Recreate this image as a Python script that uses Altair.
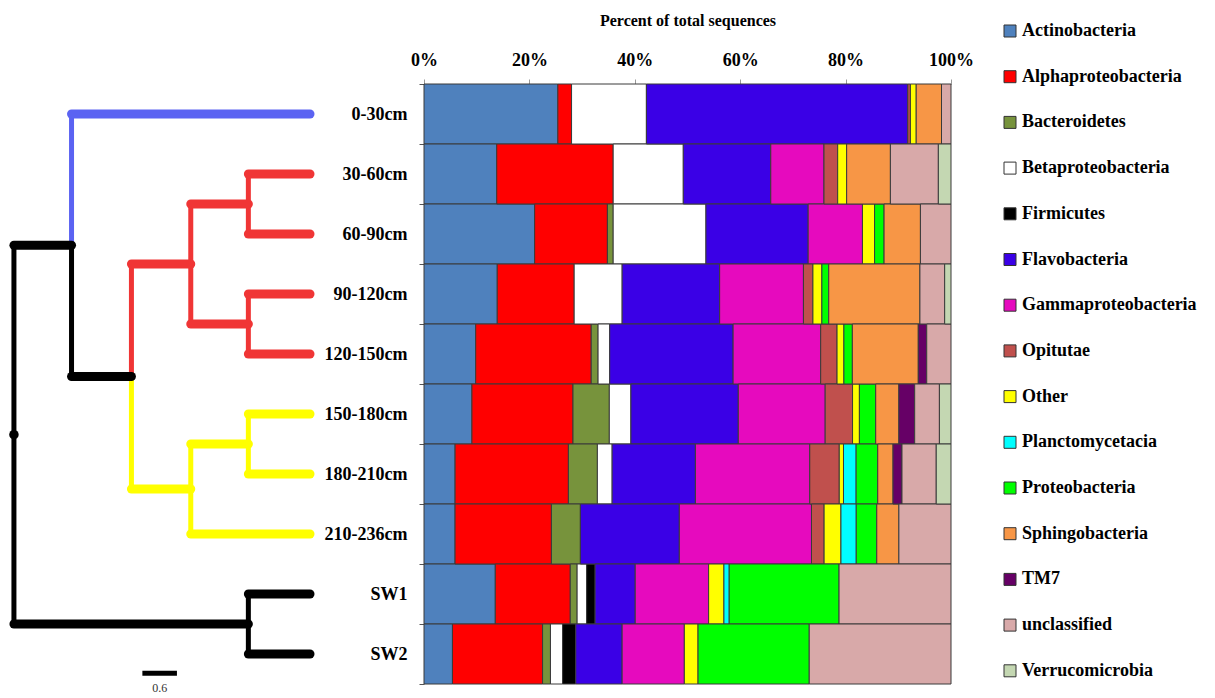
import altair as alt
import pandas as pd

# ---------------- data ----------------
samples = ["0-30cm", "30-60cm", "60-90cm", "90-120cm", "120-150cm",
           "150-180cm", "180-210cm", "210-236cm", "SW1", "SW2"]

taxa = ["Actinobacteria", "Alphaproteobacteria", "Bacteroidetes", "Betaproteobacteria",
        "Firmicutes", "Flavobacteria", "Gammaproteobacteria", "Opitutae", "Other",
        "Planctomycetacia", "Proteobacteria", "Sphingobacteria", "TM7", "unclassified",
        "Verrucomicrobia"]

taxon_colors = ["#4F81BD", "#FF0000", "#77933C", "#FFFFFF", "#000000", "#3A00E6",
                "#E60ABE", "#C0504D", "#FFFF00", "#00FFFF", "#00FF00", "#F79646",
                "#660066", "#D8A9A9", "#C4D7B2"]

# percent of total sequences, one value per sample (order of `samples`)
actinobacteria      = [25.4, 13.8, 21.0, 13.9,  9.8,  9.1,  5.9,  5.9, 13.5,  5.4]
alphaproteobacteria = [ 2.6, 22.1, 13.8, 14.6, 21.9, 19.2, 21.5, 18.3, 14.2, 17.1]
bacteroidetes       = [ 0.0,  0.0,  1.1,  0.0,  1.3,  6.9,  5.5,  5.5,  1.3,  1.5]
betaproteobacteria  = [14.2, 13.3, 17.6,  9.1,  2.2,  4.1,  2.8,  0.0,  1.8,  2.3]
firmicutes          = [ 0.0,  0.0,  0.0,  0.0,  0.0,  0.0,  0.0,  0.0,  1.6,  2.5]
flavobacteria       = [49.6, 16.6, 19.4, 18.5, 23.4, 20.4, 15.8, 18.8,  7.6,  8.8]
gammaproteobacteria = [ 0.0, 10.1, 10.3, 15.9, 16.6, 16.5, 21.7, 25.1, 13.9, 11.8]
opitutae            = [ 0.5,  2.6,  0.0,  1.8,  3.1,  5.2,  5.6,  2.4,  0.0,  0.0]
other               = [ 1.1,  1.7,  2.3,  1.7,  1.3,  1.3,  0.8,  3.2,  2.9,  2.6]
planctomycetacia    = [ 0.0,  0.0,  0.0,  0.0,  0.0,  0.0,  2.4,  2.9,  1.0,  0.0]
proteobacteria      = [ 0.0,  0.0,  1.8,  1.3,  1.6,  3.1,  4.1,  3.9, 20.8, 21.1]
sphingobacteria     = [ 4.8,  8.3,  6.9, 17.3, 12.5,  4.4,  2.9,  4.2,  0.0,  0.0]
tm7                 = [ 0.0,  0.0,  0.0,  0.0,  1.6,  3.0,  1.7,  0.0,  0.0,  0.0]
unclassified        = [ 1.8,  9.1,  5.8,  4.7,  4.6,  4.7,  6.5,  9.9, 21.2, 26.9]
verrucomicrobia     = [ 0.0,  2.4,  0.0,  1.2,  0.0,  2.2,  2.8,  0.0,  0.0,  0.0]

series = [actinobacteria, alphaproteobacteria, bacteroidetes, betaproteobacteria,
          firmicutes, flavobacteria, gammaproteobacteria, opitutae, other,
          planctomycetacia, proteobacteria, sphingobacteria, tm7, unclassified,
          verrucomicrobia]

# dendrogram: (node, child a, child b, merge height)
merges = [
    ("R1", "30-60cm", "60-90cm", 1.07),
    ("R2", "90-120cm", "120-150cm", 1.07),
    ("R", "R1", "R2", 2.07),
    ("Y1", "150-180cm", "180-210cm", 1.07),
    ("Y", "Y1", "210-236cm", 2.07),
    ("B", "R", "Y", 3.10),
    ("A", "0-30cm", "B", 4.14),
    ("S", "SW1", "SW2", 1.07),
    ("root", "A", "S", 5.14),
]
clade_colors = {"root": "#000000", "A": "#000000", "B": "#000000", "S": "#000000",
                "0-30cm": "#5B63F2", "R": "#F03535", "Y": "#FFFF00"}
scale_bar_length = 0.6

FONT = "Liberation Serif"

# ---------------- bar chart ----------------
rows = []
for ti, (taxon, vals) in enumerate(zip(taxa, series)):
    for s, v in zip(samples, vals):
        if v > 0:
            rows.append({"sample": s, "taxon": taxon, "value": v, "order": ti})
bar_df = pd.DataFrame(rows)

bars = alt.Chart(bar_df).mark_bar(stroke="#3a3a3a", strokeWidth=1).encode(
    y=alt.Y("sample:N", sort=samples, title=None,
            scale=alt.Scale(paddingInner=0, paddingOuter=0),
            axis=alt.Axis(labelFont=FONT, labelFontSize=18, labelFontWeight="bold",
                          labelColor="black", labelPadding=12, tickSize=5,
                          tickColor="#555555", tickBand="extent",
                          domainColor="#BBBBBB", grid=False)),
    x=alt.X("value:Q", stack="normalize", title="Percent of total sequences",
            scale=alt.Scale(domain=[0, 1], nice=False),
            axis=alt.Axis(orient="top", format="%", values=[0, 0.2, 0.4, 0.6, 0.8, 1.0],
                          labelFont=FONT, labelFontSize=18, labelFontWeight="bold",
                          labelColor="black", labelPadding=10, tickSize=5,
                          labelFlush=False, labelOverlap=False,
                          tickColor="#999999", domainColor="#AAAAAA", grid=False,
                          minExtent=33, maxExtent=33,
                          titleFont=FONT, titleFontSize=16, titleFontWeight="bold",
                          titleColor="black", titlePadding=23)),
    color=alt.Color("taxon:N", scale=alt.Scale(domain=taxa, range=taxon_colors),
                    legend=alt.Legend(orient="none", legendX=993, legendY=-62, title=None,
                                      symbolType="square", symbolSize=144,
                                      symbolStrokeColor="#333333", symbolStrokeWidth=1,
                                      labelFont=FONT, labelFontSize=18,
                                      labelFontWeight="bold", labelColor="black",
                                      labelLimit=300, rowPadding=27.7, labelOffset=3,
                                      padding=0)),
    order=alt.Order("order:Q"),
).properties(width=527, height=600)

# ---------------- dendrogram ----------------
node_y = {s: float(i) for i, s in enumerate(samples)}
node_h = {s: 0.0 for s in samples}
parent = {}
for name, a, b, h in merges:
    node_y[name] = (node_y[a] + node_y[b]) / 2
    node_h[name] = h
    parent[a] = name
    parent[b] = name


def clade_color(n):
    while n not in clade_colors:
        n = parent[n]
    return clade_colors[n]


hseg, vseg = [], []
for child, par in parent.items():
    col = clade_color(child)
    hseg.append({"h": node_h[child], "h2": node_h[par], "y": node_y[child], "color": col})
    vseg.append({"h": node_h[par], "y": node_y[child], "y2": node_y[par], "color": col})
h_df = pd.DataFrame(hseg)
v_df = pd.DataFrame(vseg)
root_df = pd.DataFrame([{"h": node_h["root"], "y": node_y["root"]}])

sb_start = 2.91
sb_df = pd.DataFrame([{"h": sb_start, "h2": sb_start - scale_bar_length,
                       "y": len(samples) - 1 + 0.32,
                       "ty": len(samples) - 1 + 0.57,
                       "hm": sb_start - scale_bar_length / 2,
                       "label": f"{scale_bar_length}"}])

xs = alt.Scale(domain=[5.243, -0.139], nice=False, zero=False)
ys = alt.Scale(domain=[-0.5, 9.8333], reverse=True, nice=False, zero=False)

vert = alt.Chart(v_df).mark_rule(strokeWidth=5).encode(
    x=alt.X("h:Q", scale=xs, axis=None),
    y=alt.Y("y:Q", scale=ys, axis=None), y2="y2:Q",
    color=alt.Color("color:N", scale=None))
horiz = alt.Chart(h_df).mark_rule(strokeWidth=9, strokeCap="round").encode(
    x=alt.X("h:Q", scale=xs, axis=None), x2="h2:Q",
    y=alt.Y("y:Q", scale=ys, axis=None),
    color=alt.Color("color:N", scale=None))
dot = alt.Chart(root_df).mark_circle(size=90, opacity=1, color="black").encode(
    x=alt.X("h:Q", scale=xs, axis=None), y=alt.Y("y:Q", scale=ys, axis=None))
sbar = alt.Chart(sb_df).mark_rule(strokeWidth=5, color="black").encode(
    x=alt.X("h:Q", scale=xs, axis=None), x2="h2:Q",
    y=alt.Y("y:Q", scale=ys, axis=None))
slabel = alt.Chart(sb_df).mark_text(font=FONT, fontSize=12, color="#333333").encode(
    x=alt.X("hm:Q", scale=xs, axis=None),
    y=alt.Y("ty:Q", scale=ys, axis=None), text="label:N")

tree = alt.layer(vert, horiz, dot, sbar, slabel).properties(width=310, height=620)

chart = alt.hconcat(tree, bars, spacing=6).properties(
    padding={"left": 0, "top": 4, "right": 0, "bottom": 0}
).configure(font=FONT).configure_view(stroke=None)

chart.save("out.html", embed_options={"renderer": "svg", "actions": False})
